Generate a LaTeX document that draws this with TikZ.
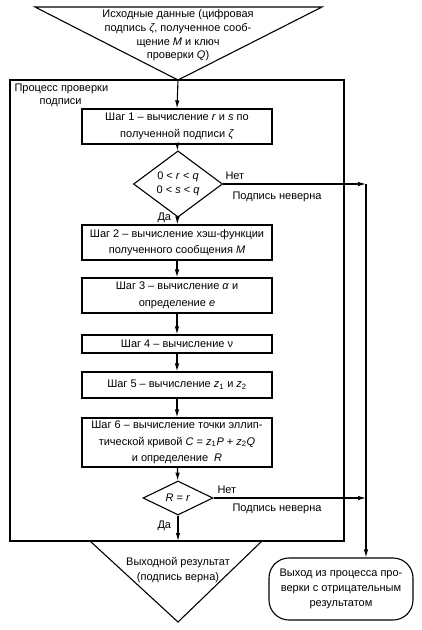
\documentclass[tikz,border=0pt]{standalone}
\usepackage{fontspec}
\setmainfont{Liberation Sans}
\usetikzlibrary{shapes.geometric,arrows.meta,calc}
\begin{document}
\begin{tikzpicture}[x=1pt,y=-1pt,
  font=\fontsize{11}{13.5}\selectfont,
  line width=1.1pt,
  arr/.style={-{Latex[length=8pt,width=4.5pt]}},
  stepbox/.style={draw, rectangle, minimum width=190pt, align=center, inner sep=0pt,
    font=\fontsize{11}{16.5}\selectfont},
  cond/.style={draw, diamond, inner sep=0pt, align=center, font=\fontsize{11}{13.5}\selectfont},
  lbl/.style={inner sep=0pt, anchor=base west}]
\useasboundingbox[fill=white] (0,0) rectangle (422,630);

% input triangle
\draw (35,7) -- (322,7) -- (178,80) -- cycle;
\coordinate (inapex) at (178,80);
\node[align=center, font=\fontsize{11}{13.7}\selectfont] (intext) at (178,35.5)
  {Исходные данные (цифровая\\подпись \textit{ζ}, полученное сооб-\\щение \textit{M} и ключ\\проверки \textit{Q})};

% process frame
\node[draw, rectangle, minimum width=334pt, minimum height=461pt, inner sep=0pt] (proc) at (177,310.5) {};
\node[align=left, anchor=north west, inner sep=0pt, font=\fontsize{11}{13}\selectfont] (proclabel) at (14,83)
  {Процесс проверки\\\hspace*{25pt}подписи};

% steps
\node[stepbox, minimum height=35pt] (s1) at (177,126.5)
  {Шаг 1 – вычисление \textit{r} и \textit{s} по\\полученной подписи \textit{ζ}};
\node[cond, minimum width=89pt, minimum height=52pt] (d1) at (178,184)
  {0 < \textit{r} < \textit{q}\\0 < \textit{s} < \textit{q}};
\node[stepbox, minimum height=35pt] (s2) at (177,242.5)
  {Шаг 2 – вычисление хэш-функции\\полученного сообщения \textit{M}};
\node[stepbox, minimum height=35pt] (s3) at (177,295.5)
  {Шаг 3 – вычисление \textit{α} и\\определение \textit{e}};
\node[stepbox, minimum height=18pt] (s4) at (177,344)
  {Шаг 4 – вычисление ν};
\node[stepbox, minimum height=26pt] (s5) at (177,385)
  {Шаг 5 – вычисление \textit{z}\textsubscript{1} и \textit{z}\textsubscript{2}};
\node[stepbox, minimum height=49pt] (s6) at (177,442.5)
  {Шаг 6 – вычисление точки эллип-\\тической кривой \textit{C} = \textit{z}\textsubscript{1}\textit{P} + \textit{z}\textsubscript{2}\textit{Q}\\и определение\ \ \textit{R}};
\node[cond, minimum width=70pt, minimum height=34pt] (d2) at (178,498)
  {\textit{R} = \textit{r}};

% output triangle
\draw (90,541) -- (178,622) -- (262,541);
\coordinate (outtop) at (178,541);
\node[align=center, font=\fontsize{11}{15}\selectfont] (outtext) at (178,570) {Выходной результат\\(подпись верна)};

% negative exit
\node[draw, rectangle, rounded corners=20pt, minimum width=144pt, minimum height=62pt,
  align=center, inner sep=0pt, font=\fontsize{11}{15}\selectfont] (fail) at (341,589)
  {Выход из процесса про-\\верки с отрицательным\\результатом};
\coordinate (j1) at (366,184);
\coordinate (j2) at (366,498);

% connectors
\draw[arr] (inapex) -- (s1.north);
\draw[arr] (s1) -- (d1);
\draw[arr] (d1) -- (s2);
\draw[arr] (s2) -- (s3);
\draw[arr] (s3) -- (s4);
\draw[arr] (s4) -- (s5);
\draw[arr] (s5) -- (s6);
\draw[arr] (s6) -- (d2);
\draw[arr] (d2) -- (outtop);
\draw[arr] (d1.east) -- (j1);
\draw[arr] (d2.east) -- (j2);
\draw[arr] (j1) -- (j1 |- fail.north);

% labels
\node[lbl] (no1) at (225,179) {Нет};
\node[lbl] (bad1) at (232,199) {Подпись неверна};
\node[lbl] (yes1) at (157,220) {Да};
\node[lbl] (no2) at (217,493) {Нет};
\node[lbl] (bad2) at (232,511) {Подпись неверна};
\node[lbl] (yes2) at (157,528) {Да};
\end{tikzpicture}
\end{document}
